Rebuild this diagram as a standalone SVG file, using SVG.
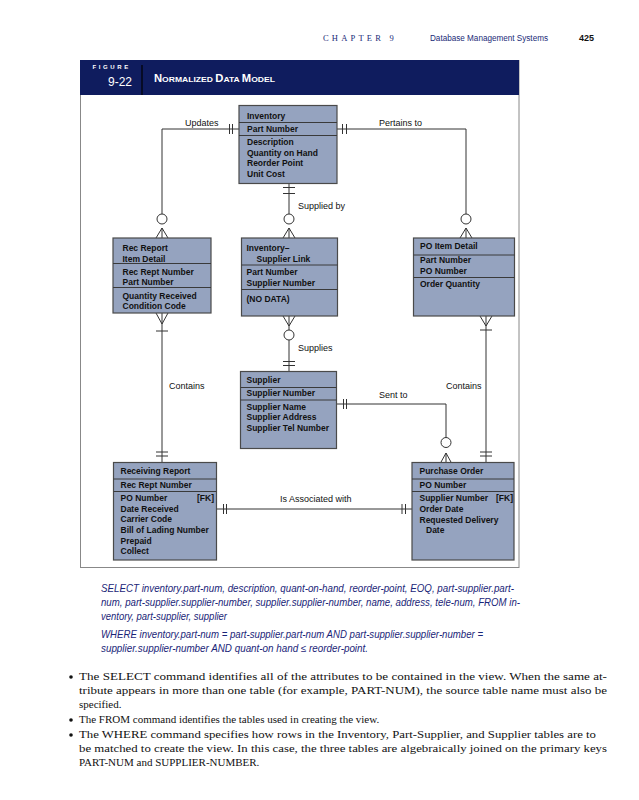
<svg xmlns="http://www.w3.org/2000/svg" width="639" height="800" viewBox="0 0 639 800">
<style>
.box{fill:#95a3bf;stroke:#4a4a4a;stroke-width:1.2}
.div{stroke:#3a3a3a;stroke-width:1}
.t{font-family:"Liberation Sans",Arial,sans-serif;font-size:8.5px;font-weight:bold;fill:#111}
.lbl{font-family:"Liberation Sans",Arial,sans-serif;font-size:9px;fill:#111}
.ln{fill:none;stroke:#333;stroke-width:1}
.circ{fill:#fff;stroke:#333;stroke-width:1}
.sql{font-family:"Liberation Sans",Arial,sans-serif;font-size:10.3px;font-style:italic;fill:#1a2578}
.body{font-family:"Liberation Serif","Times New Roman",serif;font-size:11px;fill:#111}
</style>
<rect width="639" height="800" fill="#fff"/>
<g id="page-header">
<text x="323" y="41" font-family="Liberation Serif,serif" font-size="8.5" fill="#1a2a78" letter-spacing="3.2">CHAPTER 9</text>
<text x="430" y="41" font-family="Liberation Sans,Arial,sans-serif" font-size="8.5" fill="#1a2a78" textLength="118" lengthAdjust="spacingAndGlyphs">Database Management Systems</text>
<text x="579" y="41" font-family="Liberation Sans,Arial,sans-serif" font-size="9" font-weight="bold" fill="#111">425</text>
</g>
<g id="figure-frame">
<rect x="80.5" y="60.5" width="438.5" height="507" fill="none" stroke="#888" stroke-width="1"/>
<rect x="80" y="60" width="439" height="35" fill="#0f1c5e"/>
<text x="92.5" y="69" font-family="Liberation Sans,Arial,sans-serif" font-size="6" font-weight="bold" fill="#fff" letter-spacing="2.6">FIGURE</text>
<text x="108" y="86" font-family="Liberation Sans,Arial,sans-serif" font-size="12" fill="#fff">9-22</text>
<line x1="142" y1="65" x2="142" y2="95" stroke="#000" stroke-width="1.2"/>
<text x="154" y="82" font-family="Liberation Sans,Arial,sans-serif" font-weight="bold" fill="#fff" textLength="121" lengthAdjust="spacingAndGlyphs"><tspan font-size="10.5">N</tspan><tspan font-size="8">ORMALIZED </tspan><tspan font-size="10.5">D</tspan><tspan font-size="8">ATA </tspan><tspan font-size="10.5">M</tspan><tspan font-size="8">ODEL</tspan></text>
</g>
<g id="connectors">
<polyline class="ln" points="239,129 162,129 162,214"/>
<line class="ln" x1="229.5" y1="124" x2="229.5" y2="134"/>
<line class="ln" x1="232.5" y1="124" x2="232.5" y2="134"/>
<circle class="circ" cx="162" cy="219" r="5"/>
<polyline class="ln" points="156,238 162,228 168,238"/>
<line class="ln" x1="162" y1="228" x2="162" y2="238"/>
<text class="lbl" x="185" y="126">Updates</text>
<polyline class="ln" points="337,129 466,129 466,214"/>
<line class="ln" x1="342.5" y1="124" x2="342.5" y2="134"/>
<line class="ln" x1="346.5" y1="124" x2="346.5" y2="134"/>
<circle class="circ" cx="466" cy="219" r="5"/>
<polyline class="ln" points="460,238 466,228 472,238"/>
<line class="ln" x1="466" y1="228" x2="466" y2="238"/>
<text class="lbl" x="379" y="126">Pertains to</text>
<line class="ln" x1="289" y1="183" x2="289" y2="214"/>
<line class="ln" x1="283" y1="187.5" x2="295" y2="187.5"/>
<line class="ln" x1="283" y1="193.5" x2="295" y2="193.5"/>
<circle class="circ" cx="289" cy="219" r="5"/>
<polyline class="ln" points="283,238 289,228 295,238"/>
<line class="ln" x1="289" y1="228" x2="289" y2="238"/>
<text class="lbl" x="298" y="209">Supplied by</text>
<polyline class="ln" points="283,316 289,326 295,316"/>
<line class="ln" x1="289" y1="316" x2="289" y2="330"/>
<circle class="circ" cx="289" cy="335" r="5"/>
<line class="ln" x1="289" y1="340" x2="289" y2="372"/>
<line class="ln" x1="283" y1="361.5" x2="295" y2="361.5"/>
<line class="ln" x1="283" y1="365.5" x2="295" y2="365.5"/>
<text class="lbl" x="298" y="351">Supplies</text>
<polyline class="ln" points="156,313 162,324 168,313"/>
<line class="ln" x1="162" y1="313" x2="162" y2="462"/>
<line class="ln" x1="156" y1="331" x2="168" y2="331"/>
<line class="ln" x1="156" y1="452" x2="168" y2="452"/>
<line class="ln" x1="156" y1="456" x2="168" y2="456"/>
<text class="lbl" x="169" y="389">Contains</text>
<polyline class="ln" points="480,316 486,326 492,316"/>
<line class="ln" x1="486" y1="316" x2="486" y2="463"/>
<line class="ln" x1="480" y1="330" x2="492" y2="330"/>
<line class="ln" x1="480" y1="452" x2="492" y2="452"/>
<line class="ln" x1="480" y1="456" x2="492" y2="456"/>
<text class="lbl" x="446" y="389">Contains</text>
<polyline class="ln" points="337,404 446,404 446,437.5"/>
<line class="ln" x1="343.5" y1="399" x2="343.5" y2="409"/>
<line class="ln" x1="346.5" y1="399" x2="346.5" y2="409"/>
<circle class="circ" cx="446" cy="442.5" r="5"/>
<polyline class="ln" points="440.5,463 446,453 451.5,463"/>
<line class="ln" x1="446" y1="453" x2="446" y2="463"/>
<text class="lbl" x="379" y="398">Sent to</text>
<line class="ln" x1="217" y1="509" x2="412" y2="509"/>
<line class="ln" x1="223.5" y1="504" x2="223.5" y2="514"/>
<line class="ln" x1="226.5" y1="504" x2="226.5" y2="514"/>
<line class="ln" x1="402" y1="504" x2="402" y2="514"/>
<line class="ln" x1="405.5" y1="504" x2="405.5" y2="514"/>
<text class="lbl" x="280" y="502">Is Associated with</text>
</g>
<g id="inventory">
<rect class="box" x="239" y="105.5" width="98" height="78"/>
<line class="div" x1="239" y1="122.5" x2="337" y2="122.5"/>
<line class="div" x1="239" y1="135.5" x2="337" y2="135.5"/>
<text class="t" x="247" y="118.5">Inventory</text>
<text class="t" x="247" y="132">Part Number</text>
<text class="t" x="247" y="145">Description</text>
<text class="t" x="247" y="155.5">Quantity on Hand</text>
<text class="t" x="247" y="166">Reorder Point</text>
<text class="t" x="247" y="176.5">Unit Cost</text>
</g>
<g id="rec-report-item-detail">
<rect class="box" x="113" y="238" width="98" height="75"/>
<line class="div" x1="113" y1="263.5" x2="211" y2="263.5"/>
<line class="div" x1="113" y1="287.5" x2="211" y2="287.5"/>
<text class="t" x="122.5" y="251">Rec Report</text>
<text class="t" x="122.5" y="261.5">Item Detail</text>
<text class="t" x="122.5" y="274.5">Rec Rept Number</text>
<text class="t" x="122.5" y="284.5">Part Number</text>
<text class="t" x="122.5" y="298.5">Quantity Received</text>
<text class="t" x="122.5" y="309">Condition Code</text>
</g>
<g id="inventory-supplier-link">
<rect class="box" x="241.5" y="238" width="96" height="78"/>
<line class="div" x1="241.5" y1="265" x2="337.5" y2="265"/>
<line class="div" x1="241.5" y1="289.5" x2="337.5" y2="289.5"/>
<text class="t" x="246.5" y="251">Inventory–</text>
<text class="t" x="256.5" y="261.5">Supplier Link</text>
<text class="t" x="246.5" y="275">Part Number</text>
<text class="t" x="246.5" y="285.5">Supplier Number</text>
<text class="t" x="246.5" y="301.5">(NO DATA)</text>
</g>
<g id="po-item-detail">
<rect class="box" x="413.5" y="238" width="101" height="78"/>
<line class="div" x1="413.5" y1="255" x2="514.5" y2="255"/>
<line class="div" x1="413.5" y1="277.5" x2="514.5" y2="277.5"/>
<text class="t" x="420" y="249">PO Item Detail</text>
<text class="t" x="420" y="263">Part Number</text>
<text class="t" x="420" y="273.5">PO Number</text>
<text class="t" x="420" y="287">Order Quantity</text>
</g>
<g id="supplier">
<rect class="box" x="240.5" y="371.5" width="96" height="77"/>
<line class="div" x1="240.5" y1="387.5" x2="336.5" y2="387.5"/>
<line class="div" x1="240.5" y1="400" x2="336.5" y2="400"/>
<text class="t" x="246.5" y="383">Supplier</text>
<text class="t" x="246.5" y="395.5">Supplier Number</text>
<text class="t" x="246.5" y="409.5">Supplier Name</text>
<text class="t" x="246.5" y="420">Supplier Address</text>
<text class="t" x="246.5" y="430.5">Supplier Tel Number</text>
</g>
<g id="receiving-report">
<rect class="box" x="113.5" y="462.5" width="103" height="97.5"/>
<line class="div" x1="113.5" y1="479" x2="216.5" y2="479"/>
<line class="div" x1="113.5" y1="491.5" x2="216.5" y2="491.5"/>
<text class="t" x="120.5" y="474">Receiving Report</text>
<text class="t" x="120.5" y="488">Rec Rept Number</text>
<text class="t" x="120.5" y="501">PO Number</text>
<text class="t" x="214" y="501" text-anchor="end">[FK]</text>
<text class="t" x="120.5" y="511.5">Date Received</text>
<text class="t" x="120.5" y="522">Carrier Code</text>
<text class="t" x="120.5" y="533">Bill of Lading Number</text>
<text class="t" x="120.5" y="543.5">Prepaid</text>
<text class="t" x="120.5" y="554">Collect</text>
</g>
<g id="purchase-order">
<rect class="box" x="412" y="462.5" width="102" height="97.5"/>
<line class="div" x1="412" y1="479" x2="514" y2="479"/>
<line class="div" x1="412" y1="491.5" x2="514" y2="491.5"/>
<text class="t" x="419.5" y="473.5">Purchase Order</text>
<text class="t" x="419.5" y="487.5">PO Number</text>
<text class="t" x="419.5" y="501">Supplier Number</text>
<text class="t" x="513" y="501" text-anchor="end">[FK]</text>
<text class="t" x="419.5" y="511.5">Order Date</text>
<text class="t" x="419.5" y="522.5">Requested Delivery</text>
<text class="t" x="426" y="533">Date</text>
</g>
<g id="sql-text">
<text class="sql" x="101" y="592" textLength="413" lengthAdjust="spacingAndGlyphs">SELECT inventory.part-num, description, quant-on-hand, reorder-point, EOQ, part-supplier.part-</text>
<text class="sql" x="101" y="606" textLength="419" lengthAdjust="spacingAndGlyphs">num, part-supplier.supplier-number, supplier.supplier-number, name, address, tele-num, FROM in-</text>
<text class="sql" x="101" y="620" textLength="126" lengthAdjust="spacingAndGlyphs">ventory, part-supplier, supplier</text>
<text class="sql" x="101" y="638" textLength="382" lengthAdjust="spacingAndGlyphs">WHERE inventory.part-num = part-supplier.part-num AND part-supplier.supplier-number =</text>
<text class="sql" x="101" y="652" textLength="267" lengthAdjust="spacingAndGlyphs">supplier.supplier-number AND quant-on hand ≤ reorder-point.</text>
</g>
<g id="bullets">
<circle cx="71" cy="677" r="1.8" fill="#111"/>
<text class="body" x="79" y="680" textLength="528" lengthAdjust="spacingAndGlyphs">The SELECT command identifies all of the attributes to be contained in the view. When the same at-</text>
<text class="body" x="79" y="694" textLength="528" lengthAdjust="spacingAndGlyphs">tribute appears in more than one table (for example, PART-NUM), the source table name must also be</text>
<text class="body" x="79" y="708">specified.</text>
<circle cx="71" cy="720" r="1.8" fill="#111"/>
<text class="body" x="79" y="723">The FROM command identifies the tables used in creating the view.</text>
<circle cx="71" cy="735" r="1.8" fill="#111"/>
<text class="body" x="79" y="738" textLength="517" lengthAdjust="spacingAndGlyphs">The WHERE command specifies how rows in the Inventory, Part-Supplier, and Supplier tables are to</text>
<text class="body" x="79" y="752" textLength="528" lengthAdjust="spacingAndGlyphs">be matched to create the view. In this case, the three tables are algebraically joined on the primary keys</text>
<text class="body" x="79" y="766">PART-NUM and SUPPLIER-NUMBER.</text>
</g>
</svg>
